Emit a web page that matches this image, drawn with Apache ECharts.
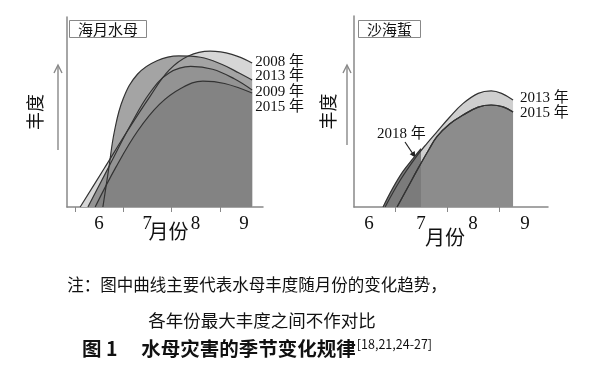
<!DOCTYPE html>
<html>
<head>
<meta charset="utf-8">
<script src="https://cdn.jsdelivr.net/npm/echarts@6/dist/echarts.min.js"></script>
<style>
  html, body { margin: 0; padding: 0; background: #fff; }
  #chart { width: 600px; height: 376px; }
</style>
</head>
<body>
<div id="chart"></div>
<script>
// 月份刻度
const monthLabels = [6, 7, 8, 9];
const monthTicks = [5.5, 6.5, 7.5, 8.5];

// 海月水母 (left panel)
const ja2008Months = [5.61, 6.1, 6.6, 7.05, 7.45, 7.85, 8.3, 8.75, 9.17];
const ja2008Values = [0, 20, 40.5, 58, 72, 79.5, 82, 80.3, 75.8];
const ja2013Months = [6.08, 6.2, 6.32, 6.5, 6.8, 7.2, 7.65, 8.1, 8.55, 8.9, 9.17];
const ja2013Values = [0, 20, 40, 57, 70, 77, 79.5, 78.8, 75, 70.5, 66.8];
const ja2009Months = [5.77, 6.2, 6.65, 7.05, 7.45, 7.9, 8.35, 8.8, 9.17];
const ja2009Values = [0, 21, 43, 60, 70.5, 74, 72.5, 67.5, 61.6];
const ja2015Months = [5.92, 6.35, 6.8, 7.25, 7.7, 8.15, 8.6, 9.17];
const ja2015Values = [0, 21, 40, 54, 62.5, 66.3, 65, 60];

// 沙海蜇 (right panel)
const nn2013Months = [6.31, 6.6, 6.9, 7.12, 7.31, 7.55, 7.8, 8.1, 8.35, 8.55, 8.77];
const nn2013Values = [0, 14, 26, 33.5, 39.5, 47, 54, 59.5, 60.8, 59.5, 56];
const nn2015Months = [6.54, 6.75, 6.95, 7.15, 7.31, 7.55, 7.8, 8.1, 8.35, 8.58, 8.77];
const nn2015Values = [0, 10.5, 20.5, 30, 37, 43.5, 48, 52.3, 53.4, 52.4, 49.7];
const nn2018Months = [6.27, 6.45, 6.65, 6.85, 7.0];
const nn2018Values = [0, 9.5, 18.5, 25.5, 30.5];

const pairs = (xs, ys) => xs.map((x, i) => [x, ys[i]]);

const serif = "'Liberation Serif', 'Noto Sans CJK SC', serif";
const cjk = "'Noto Sans CJK SC', sans-serif";

function areaSeries(name, xs, ys, axis, fill, labelOffset, labelDist) {
  return {
    name: name,
    type: 'line',
    xAxisIndex: axis,
    yAxisIndex: axis,
    data: pairs(xs, ys),
    smooth: 0.4,
    showSymbol: false,
    lineStyle: { color: '#333', width: 1.2 },
    areaStyle: { color: fill, opacity: 1 },
    endLabel: labelOffset == null ? { show: false } : {
      show: true,
      formatter: name,
      fontFamily: serif,
      fontSize: 15,
      color: '#111',
      distance: labelDist,
      offset: [0, labelOffset]
    }
  };
}

function xAxisFor(gridIndex, min, max, nameGap, namePad) {
  return {
    type: 'value',
    gridIndex: gridIndex,
    min: min,
    max: max,
    name: '月份',
    nameLocation: 'middle',
    nameGap: nameGap,
    nameMoveOverlap: false,
    nameTextStyle: { fontFamily: cjk, fontSize: 20, color: '#111', padding: namePad },
    axisLine: { lineStyle: { color: '#888', width: 1.5 } },
    axisTick: { customValues: monthTicks, length: 5, lineStyle: { color: '#888' } },
    axisLabel: {
      customValues: monthLabels,
      fontFamily: serif,
      fontSize: 19,
      color: '#111',
      margin: 8
    },
    splitLine: { show: false }
  };
}

function yAxisFor(gridIndex, nameGap) {
  return {
    type: 'value',
    gridIndex: gridIndex,
    min: 0,
    max: 100,
    name: '丰度',
    nameLocation: 'middle',
    nameRotate: 90,
    nameGap: nameGap,
    nameMoveOverlap: false,
    nameTextStyle: { fontFamily: cjk, fontSize: 18, color: '#111' },
    axisLine: { show: true, lineStyle: { color: '#888', width: 1.5 } },
    axisTick: { show: false },
    axisLabel: { show: false },
    splitLine: { show: false }
  };
}

const chart = echarts.init(document.getElementById('chart'));

const option = {
  animation: false,
  backgroundColor: '#fff',
  title: [
    {
      text: '海月水母', left: 69, top: 20,
      padding: [1, 9], borderColor: '#888', borderWidth: 1,
      textStyle: { fontFamily: cjk, fontSize: 15, fontWeight: 'normal', color: '#111', lineHeight: 16 }
    },
    {
      text: '沙海蜇', left: 358, top: 20,
      padding: [1, 9], borderColor: '#888', borderWidth: 1,
      textStyle: { fontFamily: cjk, fontSize: 15, fontWeight: 'normal', color: '#111', lineHeight: 16 }
    }
  ],
  grid: [
    { left: 67, right: 337, top: 17, bottom: 169 },
    { left: 354, right: 52, top: 16, bottom: 169 }
  ],
  xAxis: [
    xAxisFor(0, 5.337, 9.395, 14, [0, 0, 0, 7]),
    xAxisFor(1, 5.712, 9.442, 20, [0, 12, 0, 0])
  ],
  yAxis: [
    yAxisFor(0, 23),
    yAxisFor(1, 17)
  ],
  series: [
    areaSeries('2008 年', ja2008Months, ja2008Values, 0, '#d6d6d6', -1, 3),
    areaSeries('2013 年', ja2013Months, ja2013Values, 0, '#a4a4a4', -4, 3),
    areaSeries('2009 年', ja2009Months, ja2009Values, 0, '#939393', 2, 3),
    areaSeries('2015 年', ja2015Months, ja2015Values, 0, '#838383', 14, 3),

    areaSeries('2013 年', nn2013Months, nn2013Values, 1, '#cfcfcf', -2, 7),
    areaSeries('2015 年', nn2015Months, nn2015Values, 1, '#8c8c8c', 1, 7),
    areaSeries('2018 年', nn2018Months, nn2018Values, 1, '#7b7b7b', null, 0),
    {
      // 2015 outline kept visible above the 2018 shading
      type: 'line', xAxisIndex: 1, yAxisIndex: 1, silent: true,
      data: pairs(nn2015Months, nn2015Values),
      smooth: 0.4, showSymbol: false,
      lineStyle: { color: '#333', width: 1.2 }
    }
  ],
  graphic: [
    // 丰度 arrows
    { type: 'line', shape: { x1: 58, y1: 150, x2: 58, y2: 66 }, style: { stroke: '#888', lineWidth: 1.4 } },
    { type: 'polyline', shape: { points: [[54, 73], [58, 65], [62, 73]] }, style: { stroke: '#888', lineWidth: 1.4, fill: null } },
    { type: 'line', shape: { x1: 347, y1: 145, x2: 347, y2: 66 }, style: { stroke: '#888', lineWidth: 1.4 } },
    { type: 'polyline', shape: { points: [[343, 73], [347, 65], [351, 73]] }, style: { stroke: '#888', lineWidth: 1.4, fill: null } },
    // 2018 年 annotation
    { type: 'text', x: 377, y: 134, style: { text: '2018 年', font: '15px ' + serif, fill: '#111', verticalAlign: 'middle' } },
    { type: 'line', shape: { x1: 405, y1: 142, x2: 413, y2: 154 }, style: { stroke: '#222', lineWidth: 1.2 } },
    { type: 'polygon', shape: { points: [[415.5, 157.5], [409.7, 154.2], [414.7, 150.9]] }, style: { fill: '#222' } },
    // captions
    { type: 'text', x: 257, y: 285, style: { text: '注：图中曲线主要代表水母丰度随月份的变化趋势，', font: '16.5px ' + cjk, fill: '#111', align: 'center', verticalAlign: 'middle' } },
    { type: 'text', x: 262, y: 320, style: { text: '各年份最大丰度之间不作对比', font: '17.5px ' + cjk, fill: '#111', align: 'center', verticalAlign: 'middle' } },
    {
      type: 'text', x: 82, y: 349,
      style: {
        text: '{t|图 1　 水母灾害的季节变化规律}{s|[18,21,24-27]}',
        verticalAlign: 'middle',
        rich: {
          t: { font: 'bold 19.5px ' + cjk, fill: '#111' },
          s: { font: '12.5px ' + cjk, fill: '#111', padding: [0, 0, 10, 1] }
        }
      }
    }
  ]
};

chart.setOption(option);
</script>
</body>
</html>
